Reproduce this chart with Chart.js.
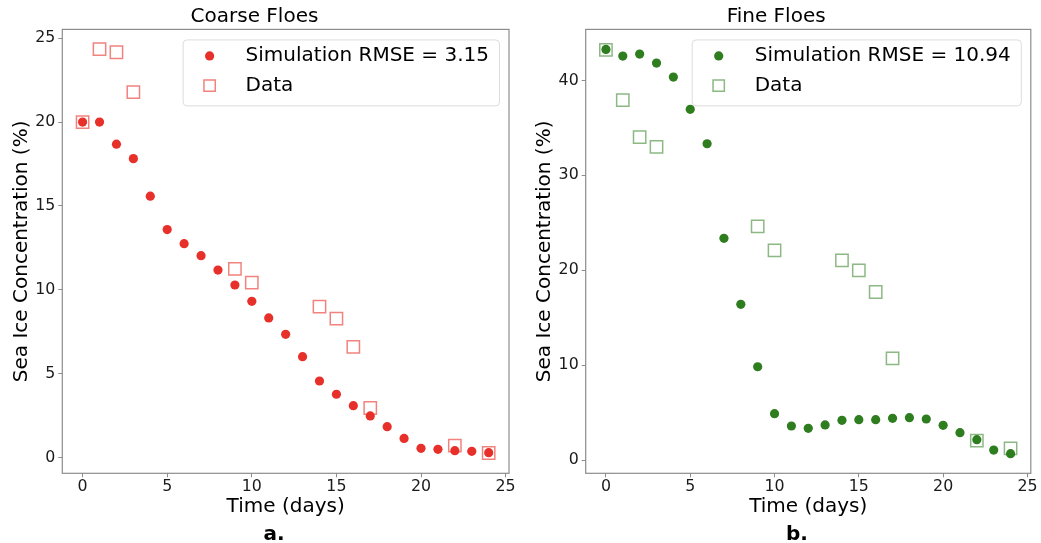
<!DOCTYPE html>
<html>
<head>
<meta charset="utf-8">
<script src="https://cdn.jsdelivr.net/npm/chart.js@4.4.1/dist/chart.umd.min.js"></script>
<style>
  html, body { margin: 0; padding: 0; background: #fff; }
  #wrap { position: relative; width: 1041px; height: 543px; overflow: hidden; }
  #wrap canvas { position: absolute; top: 0; }
  .panel-tag { position: absolute; font: bold 20px "DejaVu Sans"; line-height: 24px; color: #000; transform: translateX(-50%); }
</style>
</head>
<body>
<div id="wrap">
  <canvas id="coarseChart" width="520" height="543" style="left:0"></canvas>
  <canvas id="fineChart" width="521" height="543" style="left:520px"></canvas>
  <div class="panel-tag" style="left:274px; top:521px">a.</div>
  <div class="panel-tag" style="left:797px; top:521px">b.</div>
</div>
<script>
// time axis (days) shared by both simulations
const days = [0, 1, 2, 3, 4, 5, 6, 7, 8, 9, 10, 11, 12, 13, 14, 15, 16, 17, 18, 19, 20, 21, 22, 23, 24];

// Coarse floes
const coarseSim = [20.0, 20.0, 18.68, 17.82, 15.58, 13.59, 12.75, 12.04, 11.18, 10.29, 9.32, 8.33, 7.35,
                   6.02, 4.57, 3.78, 3.10, 2.49, 1.85, 1.15, 0.56, 0.50, 0.42, 0.38, 0.30];
const coarseDataDays = [0, 1, 2, 3, 9, 10, 14, 15, 16, 17, 22, 24];
const coarseData = [20.0, 24.34, 24.16, 21.78, 11.25, 10.43, 9.0, 8.29, 6.6, 2.96, 0.72, 0.28];
const coarseRmse = '3.15';

// Fine floes
const fineSim = [43.26, 42.56, 42.77, 41.82, 40.35, 36.95, 33.33, 23.37, 16.42, 9.85, 4.91, 3.61, 3.37,
                 3.72, 4.21, 4.28, 4.28, 4.42, 4.49, 4.35, 3.68, 2.91, 2.17, 1.08, 0.70];
const fineDataDays = [0, 1, 2, 3, 9, 10, 14, 15, 16, 17, 22, 24];
const fineData = [43.22, 37.93, 34.03, 33.01, 24.63, 22.1, 21.05, 20.0, 17.72, 10.73, 2.07, 1.26];
const fineRmse = '10.94';

// tick labels
const xTicks = [0, 5, 10, 15, 20, 25];
const coarseYTicks = [0, 5, 10, 15, 20, 25];
const fineYTicks = [0, 10, 20, 30, 40];

const FONT = '"DejaVu Sans"';
const SPINE = '#8c8c8c';

// legend box in the upper right of the plot, matplotlib style
const floeLegend = {
    id: 'floeLegend',
    afterDatasetsDraw(chart) {
        const ctx = chart.ctx;
        const area = chart.chartArea;
        ctx.save();
        ctx.font = '20px ' + FONT;
        const sets = chart.data.datasets;
        const textW = Math.max(...sets.map(d => ctx.measureText(d.label).width));
        const w = textW + 73, h = 66;
        const left = area.right - 10 - w, top = area.top + 10;
        ctx.fillStyle = 'rgba(255,255,255,0.8)';
        ctx.strokeStyle = '#dcdcdc';
        ctx.lineWidth = 1;
        ctx.beginPath();
        ctx.roundRect(left + 0.5, top + 0.5, w, h, 4);
        ctx.fill();
        ctx.stroke();
        sets.forEach((ds, i) => {
            const y = top + 16.5 + i * 29.8;
            ctx.fillStyle = ds.backgroundColor;
            ctx.strokeStyle = ds.borderColor;
            ctx.lineWidth = ds.borderWidth;
            Chart.helpers.drawPoint(ctx, {
                pointStyle: ds.pointStyle,
                radius: ds.pointStyle === 'rect' ? 8 : ds.pointRadius,
                borderWidth: ds.borderWidth,
                rotation: 0
            }, left + 27, y);
            ctx.fillStyle = '#000';
            ctx.textBaseline = 'middle';
            ctx.textAlign = 'left';
            ctx.fillText(ds.label, left + 63, y);
        });
        ctx.restore();
    }
};

// full box around the plot area
const frameBox = {
    id: 'frameBox',
    beforeDatasetsDraw(chart) {
        const { ctx, chartArea: a } = chart;
        ctx.save();
        ctx.strokeStyle = SPINE;
        ctx.lineWidth = 1.2;
        ctx.strokeRect(a.left, a.top, a.width, a.height);
        ctx.restore();
    }
};

function points(xs, ys) {
    return xs.map((x, i) => ({ x: x, y: ys[i] }));
}

function makeChart(id, cfg) {
    const canvas = document.getElementById(id);
    return new Chart(canvas, {
        type: 'scatter',
        data: {
            datasets: [
                {
                    label: 'Simulation RMSE = ' + cfg.rmse,
                    data: points(days, cfg.sim),
                    pointStyle: 'circle',
                    pointRadius: 4.6,
                    pointHoverRadius: 4.6,
                    backgroundColor: cfg.color,
                    borderColor: cfg.color,
                    borderWidth: 0
                },
                {
                    label: 'Data',
                    data: points(cfg.dataDays, cfg.data),
                    pointStyle: 'rect',
                    pointRadius: 8.7,
                    pointHoverRadius: 8.7,
                    backgroundColor: 'rgba(0,0,0,0)',
                    borderColor: cfg.light,
                    borderWidth: 1.5
                }
            ]
        },
        options: {
            responsive: false,
            animation: false,
            events: [],
            layout: { padding: { left: 0, right: cfg.padRight, top: 0, bottom: 0 } },
            plugins: {
                legend: { display: false },
                tooltip: { enabled: false },
                title: {
                    display: true,
                    text: cfg.title,
                    color: '#000',
                    font: { family: FONT, size: 20, weight: 'normal' },
                    padding: { top: 5, bottom: 0.4 }
                }
            },
            scales: {
                x: {
                    type: 'linear',
                    min: -1.2,
                    max: 25.2,
                    afterBuildTicks: s => { s.ticks = xTicks.map(v => ({ value: v })); },
                    afterFit: s => { s.height = 69.7; },
                    grid: { display: true, drawOnChartArea: false, drawTicks: true, tickLength: 4, color: SPINE },
                    border: { display: false },
                    ticks: { padding: 0, color: '#1a1a1a', font: { family: FONT, size: 15.8 } },
                    title: {
                        display: true,
                        text: 'Time (days)',
                        color: '#000',
                        font: { family: FONT, size: 20 },
                        padding: { top: 0, bottom: 24 }
                    }
                },
                y: {
                    type: 'linear',
                    min: cfg.yMin,
                    max: cfg.yMax,
                    afterBuildTicks: s => { s.ticks = cfg.yTicks.map(v => ({ value: v })); },
                    afterFit: s => { s.width = cfg.yWidth; },
                    grid: { display: true, drawOnChartArea: false, drawTicks: true, tickLength: 4, color: SPINE },
                    border: { display: false },
                    ticks: { padding: 3, color: '#1a1a1a', font: { family: FONT, size: 15.8 } },
                    title: {
                        display: true,
                        text: 'Sea Ice Concentration (%)',
                        color: '#000',
                        font: { family: FONT, size: 20 },
                        padding: { top: cfg.yTitlePad, bottom: 0 }
                    }
                }
            }
        },
        plugins: [frameBox, floeLegend]
    });
}

makeChart('coarseChart', {
    title: 'Coarse Floes',
    rmse: coarseRmse,
    sim: coarseSim,
    dataDays: coarseDataDays,
    data: coarseData,
    color: '#e8302a',
    light: 'rgba(232, 48, 42, 0.6)',
    yMin: -0.93,
    yMax: 25.52,
    yTicks: coarseYTicks,
    yWidth: 62.3,
    yTitlePad: 10,
    padRight: 11
});

makeChart('fineChart', {
    title: 'Fine Floes',
    rmse: fineRmse,
    sim: fineSim,
    dataDays: fineDataDays,
    data: fineData,
    color: '#2e7d1f',
    light: 'rgba(46, 125, 31, 0.55)',
    yMin: -1.37,
    yMax: 45.37,
    yTicks: fineYTicks,
    yWidth: 65.7,
    yTitlePad: 13,
    padRight: 8.7
});
</script>
</body>
</html>
